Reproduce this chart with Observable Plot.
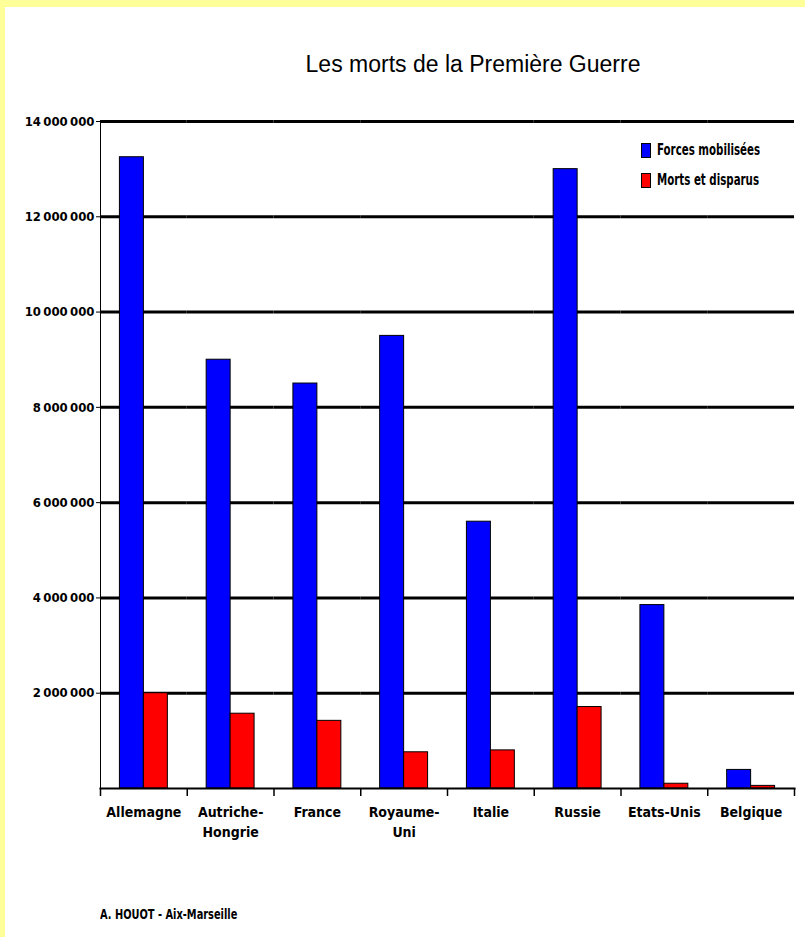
<!DOCTYPE html>
<html>
<head>
<meta charset="utf-8">
<script src="https://cdn.jsdelivr.net/npm/d3@7"></script>
<script src="https://cdn.jsdelivr.net/npm/@observablehq/plot@0.6"></script>
<style>
  html, body { margin: 0; padding: 0; background: #FFFF99; width: 805px; height: 937px; overflow: hidden; }
  #page { position: absolute; left: 5px; top: 7px; width: 800px; height: 930px; background: #FFFFFF; }
  .narrow { font-family: "Liberation Sans Narrow", "DejaVu Sans Condensed", "Arial Narrow", sans-serif; font-weight: bold; color: #000; }
  #title { position: absolute; top: 44px; left: 468px; transform: translateX(-50%); white-space: nowrap;
           font-family: "Liberation Sans", Arial, sans-serif; font-size: 23px; color: #000; }
  #chart { position: absolute; left: 0px; top: 86px; }
  .leg { position: absolute; display: flex; align-items: center; font-size: 15px; white-space: nowrap; }
  .leg span { display: inline-block; transform: scaleX(0.76); transform-origin: left center; }
  .sw { width: 8px; height: 13px; border: 1px solid #000; margin-right: 6px; }
  #caption { position: absolute; left: 95px; top: 899px; font-size: 14px; white-space: nowrap; transform: scaleX(0.78); transform-origin: left center; }
</style>
</head>
<body>
<div id="page">
  <div id="title">Les morts de la Première Guerre</div>
  <div id="chart"></div>
  <div id="legend"></div>
  <div id="caption" class="narrow">A. HOUOT - Aix-Marseille</div>
</div>
<script>
// ---- data ----
const countries = ["Allemagne", "Autriche-Hongrie", "France", "Royaume-Uni", "Italie", "Russie", "Etats-Unis", "Belgique"];
const countryLabels = ["Allemagne", "Autriche-\nHongrie", "France", "Royaume-\nUni", "Italie", "Russie", "Etats-Unis", "Belgique"];
const seriesNames = ["Forces mobilisées", "Morts et disparus"];
const seriesColors = ["#0000FF", "#FF0000"];
const mobilized = [13250000, 9000000, 8500000, 9500000, 5600000, 13000000, 3850000, 390000];
const deaths = [2000000, 1570000, 1420000, 760000, 800000, 1710000, 100000, 55000];
const yTicks = [2000000, 4000000, 6000000, 8000000, 10000000, 12000000, 14000000];

const data = [];
countries.forEach((c, i) => {
  data.push({country: c, series: seriesNames[0], value: mobilized[i]});
  data.push({country: c, series: seriesNames[1], value: deaths[i]});
});

const fmt = d3.formatLocale({thousands: "\u2009", grouping: [3], decimal: ","}).format(",");
const labelOf = new Map(countries.map((c, i) => [c, countryLabels[i]]));

const W = 800, H = 760, ML = 95, MR = 11, MT = 28, MB = 65;
const step = (W - ML - MR) / countries.length;

const fontFam = '"Liberation Sans Narrow", "DejaVu Sans Condensed", "Arial Narrow", sans-serif';

const chart = Plot.plot({
  width: W, height: H,
  marginLeft: ML, marginRight: MR, marginTop: MT, marginBottom: MB,
  style: {fontFamily: fontFam, fontWeight: "bold", fontSize: "14px", color: "#000", background: "transparent", overflow: "visible"},
  fx: {domain: countries, paddingInner: 0, paddingOuter: 0, round: false, label: null},
  x: {domain: seriesNames, paddingInner: 0, paddingOuter: 0.81, round: false, axis: null},
  y: {domain: [0, 14000000], axis: null},
  color: {domain: seriesNames, range: seriesColors},
  marks: [
    Plot.ruleY(yTicks, {stroke: "#000", strokeWidth: 3}),
    Plot.barY(data, {fx: "country", x: "series", y: "value", fill: "series", stroke: "#000", strokeWidth: 1}),
    Plot.axisY({ticks: yTicks, tickFormat: fmt, tickSize: 4, tickPadding: 2, label: null, fontSize: 13}),
    Plot.frame({anchor: "left", facet: "super", stroke: "#000", strokeWidth: 1}),
    Plot.frame({anchor: "bottom", facet: "super", stroke: "#000", strokeWidth: 2}),
    Plot.axisFx({anchor: "bottom", tickSize: 0, tickPadding: 14, tickFormat: d => labelOf.get(d), lineHeight: 1.45, label: null, fontSize: 14}),
    Plot.axisFx({anchor: "bottom", text: null, tickSize: 8, dx: -step / 2, label: null, strokeWidth: 1.5}),
    Plot.axisFx({anchor: "bottom", ticks: [countries[countries.length - 1]], text: null, tickSize: 8, dx: step / 2, label: null, strokeWidth: 1.5})
  ]
});
document.getElementById("chart").appendChild(chart);

// legend
const legend = document.getElementById("legend");
seriesNames.forEach((s, i) => {
  const row = document.createElement("div");
  row.className = "leg narrow";
  row.style.left = "636px";
  row.style.top = (134 + i * 30) + "px";
  const sw = document.createElement("div");
  sw.className = "sw";
  sw.style.background = seriesColors[i];
  row.appendChild(sw);
  const t = document.createElement("span");
  t.textContent = s;
  row.appendChild(t);
  legend.appendChild(row);
});
</script>
</body>
</html>
